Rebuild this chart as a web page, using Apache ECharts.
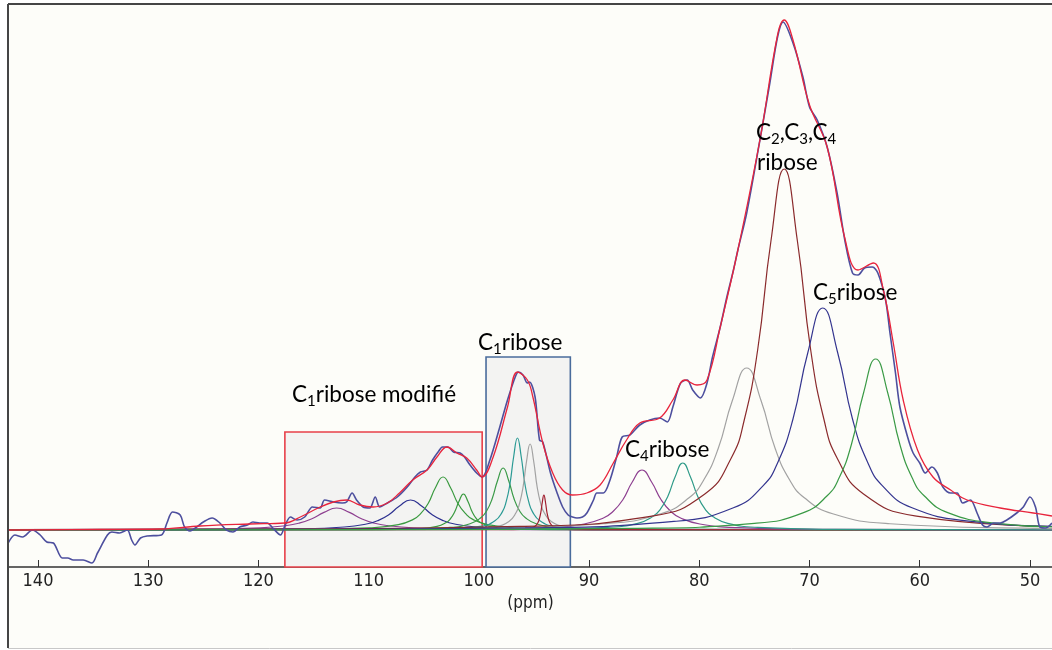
<!DOCTYPE html>
<html>
<head>
<meta charset="utf-8">
<script src="https://cdn.jsdelivr.net/npm/echarts@6/dist/echarts.min.js"></script>
<style>
html,body{margin:0;padding:0;background:#ffffff;}
#chart{width:1052px;height:650px;}
</style>
</head>
<body>
<div id="chart"></div>
<script>
// x: chemical shift (ppm), y: intensity (arbitrary units, baseline = 0)
const tickValues = [50, 60, 70, 80, 90, 100, 110, 120, 130, 140];

const experimental = [
[142.7,-2.6],[142.1,-1.0],[141.4,-1.4],[140.5,0],[139.8,-1.0],[139.2,-2.4],[138.6,-2.6],[137.8,-5.6],[137.3,-5.6],[136.8,-6.0],
[135.9,-6.0],[135.1,-6.6],[134.6,-4.6],[133.7,-1.0],[133.3,-0.4],[132.6,-0.6],[131.9,0],[131.5,-2.0],[131.2,-3.0],[130.7,-1.6],
[130.1,-1.2],[128.8,-1.0],[128.3,1.4],[127.8,3.6],[127.1,3.0],[126.7,0.6],[126.2,-0.2],[125.6,0.6],[125.0,1.6],[124.2,2.4],
[123.5,1.4],[122.9,0],[122.3,-0.4],[121.7,0.6],[121.0,1.0],[120.5,1.6],[119.9,1.4],[119.2,1.4],[118.7,0.4],[118.0,-1.0],
[117.6,0.8],[117.1,2.6],[116.5,2.0],[115.8,2.6],[115.1,4.6],[114.4,4.4],[114.0,6.0],[113.2,5.6],[112.4,5.4],[112.0,5.6],
[111.5,7.4],[111.1,6.0],[110.5,4.6],[109.9,4.4],[109.4,6.6],[109.0,4.6],[108.3,5.4],[107.4,6.6],[106.5,8.6],[105.8,10.6],
[105.3,11.6],[104.7,12.0],[104.2,14.0],[103.7,15.6],[103.3,16.6],[102.8,16.6],[102.3,15.6],[101.7,15.4],[101.3,14.6],[100.8,13.0],
[100.2,11.4],[99.7,10.6],[99.0,14.0],[98.1,20.6],[97.4,26.0],[96.7,30.6],[96.4,31.6],[96.0,31.0],[95.6,29.4],[95.4,29.6],
[94.9,26.6],[94.5,18.0],[94.2,17.6],[93.5,11.4],[92.9,7.4],[92.4,4.6],[91.9,3.0],[91.5,2.6],[91.1,2.4],[90.6,2.6],
[90.2,3.4],[89.6,6.0],[89.3,7.4],[88.7,7.4],[88.1,10.0],[87.5,14.6],[87.0,18.6],[86.3,19.0],[85.4,21.0],[84.5,22.0],
[83.6,22.4],[82.9,21.6],[82.4,24.6],[81.7,29.4],[81.1,30.0],[80.6,28.0],[79.9,26.4],[79.3,29.4],[78.8,34.6],[78.1,40.6],
[77.5,46.6],[76.9,52.0],[76.5,56.0],[75.7,63.4],[74.5,78.0],[73.6,89.4],[72.9,98.6],[72.4,101.6],[71.5,97.4],[70.6,90.6],
[70.0,84.6],[69.3,82.0],[68.4,76.6],[67.5,67.4],[66.8,58.0],[66.1,51.4],[65.6,51.0],[65.0,52.4],[64.3,52.6],[63.8,51.4],
[63.1,46.0],[62.7,39.4],[62.2,31.4],[61.8,24.6],[61.1,18.6],[60.6,15.4],[60.0,13.4],[59.5,11.4],[58.9,12.6],[58.4,11.4],
[57.9,8.6],[57.2,7.4],[56.6,7.4],[56.1,5.4],[55.4,6.0],[54.8,3.4],[54.3,1.0],[53.9,0.6],[53.3,1.4],[52.7,1.4],
[52.1,2.0],[51.2,3.4],[50.6,4.6],[50.0,6.6],[49.5,4.6],[49.1,0.6],[48.6,0.4],[48.0,1.4]
];

const fit = [
[142.7,0],[134.4,0.1],[128.8,0.2],[125.3,0.8],[120.8,1.2],[117.6,1.4],[116.2,2.6],[114.4,4.6],[113.2,5.6],[112.0,6.0],
[110.8,5.0],[109.6,4.6],[108.3,5.4],[107.2,7.4],[106.0,10.0],[104.7,12.0],[103.8,14.6],[102.9,16.6],[102.0,15.4],[101.1,14.4],
[100.2,12.0],[99.7,10.6],[98.7,14.6],[97.4,24.6],[96.5,31.6],[95.6,30.0],[95.1,26.6],[94.2,17.4],[93.3,11.4],[92.4,8.0],
[91.5,7.0],[90.2,7.4],[89.0,9.0],[87.8,13.4],[86.6,18.0],[85.4,21.4],[83.6,22.4],[82.4,26.0],[81.3,30.0],[80.2,29.0],
[79.3,30.0],[78.1,40.6],[76.5,56.0],[74.5,78.0],[72.9,99.0],[72.3,102.0],[71.5,98.0],[70.0,85.0],[68.4,76.6],[66.8,58.4],
[65.6,52.0],[64.2,53.4],[63.3,48.0],[62.4,37.4],[61.5,26.0],[60.2,16.0],[58.8,10.6],[57.2,8.0],[55.7,6.0],[52.7,4.4],
[49.7,3.4],[48.0,2.8]
];

// deconvolution components
const c1Purple = [[48,0],[89.9,0.04],[101.4,0.17],[106.0,0.44],[108.3,0.88],[109.45,1.35],[110.6,2.2],[111.75,3.52],[112.9,4.4],[114.05,3.52],[115.2,2.2],[116.35,1.35],[117.5,0.88],[119.8,0.44],[124.4,0.17],[135.9,0.04],[142.6,0.03]];
const c2Navy = [[48,0],[86.2,0.06],[96.2,0.23],[100.2,0.6],[102.2,1.2],[103.2,1.85],[104.2,3.0],[105.2,4.8],[106.2,6.0],[107.2,4.8],[108.2,3.0],[109.2,1.85],[110.2,1.2],[112.2,0.6],[116.2,0.23],[126.2,0.06],[142.6,0.02]];
const c3Green = [[48,0],[89.75,0.1],[96.5,0.41],[99.2,1.06],[100.55,2.12],[101.2,3.26],[101.9,5.3],[102.58,8.5],[103.25,10.6],[103.93,8.5],[104.6,5.3],[105.28,3.26],[105.95,2.12],[107.3,1.06],[110.0,0.41],[116.75,0.1],[142.6,0.01]];
const c4Green = [[48,0],[93.4,0.07],[97.4,0.28],[99.0,0.72],[99.8,1.44],[100.2,2.2],[100.6,3.6],[101.0,5.76],[101.4,7.2],[101.8,5.76],[102.2,3.6],[102.6,2.2],[103.0,1.44],[103.8,0.72],[105.4,0.28],[109.4,0.07],[142.6,0]];
const c5Green = [[48,0],[87.8,0.12],[92.8,0.48],[94.8,1.24],[95.8,2.5],[96.3,3.8],[96.8,6.2],[97.3,9.9],[97.8,12.4],[98.3,9.9],[98.8,6.2],[99.3,3.8],[99.8,2.5],[100.8,1.24],[102.8,0.48],[107.8,0.12],[142.6,0]];
const c6Teal = [[48,0],[89.7,0.18],[93.1,0.71],[94.46,1.84],[95.14,3.68],[95.48,5.66],[95.82,9.2],[96.16,14.7],[96.5,18.4],[96.84,14.7],[97.18,9.2],[97.52,5.66],[97.86,3.68],[98.54,1.84],[99.9,0.71],[103.3,0.18],[142.6,0]];
const c7Gray = [[48,0],[88.95,0.17],[92.15,0.66],[93.43,1.72],[94.07,3.44],[94.39,5.3],[94.71,8.6],[95.03,13.8],[95.35,17.2],[95.67,13.8],[95.99,8.6],[96.31,5.3],[96.63,3.44],[97.27,1.72],[98.55,0.66],[101.75,0.17],[142.6,0]];
const c8DarkRed = [[48,0],[91.3,0.07],[92.7,0.27],[93.26,0.7],[93.54,1.4],[93.68,2.15],[93.82,3.5],[93.96,5.6],[94.1,7.0],[94.24,5.6],[94.38,3.5],[94.52,2.15],[94.66,1.4],[94.94,0.7],[95.5,0.27],[96.9,0.07],[142.6,0]];
const c9Purple = [[48,0.02],[67.7,0.12],[76.45,0.46],[79.95,1.2],[81.7,2.4],[82.58,3.7],[83.45,6.0],[84.33,9.6],[85.2,12.0],[86.08,9.6],[86.95,6.0],[87.83,3.7],[88.7,2.4],[90.45,1.2],[93.95,0.46],[102.7,0.12],[142.6,0.01]];
const c10Teal = [[48,0.02],[67.9,0.13],[74.7,0.52],[77.42,1.34],[78.78,2.68],[79.46,4.12],[80.14,6.7],[80.82,10.7],[81.5,13.4],[82.18,10.7],[82.86,6.7],[83.54,4.12],[84.22,2.68],[85.58,1.34],[88.3,0.52],[95.1,0.13],[142.6,0.01]];
const c11Gray = [[48,0.28],[49.7,0.32],[62.7,1.25],[67.9,3.24],[70.5,6.5],[71.8,10.0],[73.1,16.2],[74.4,25.9],[75.7,32.4],[77.0,25.9],[78.3,16.2],[79.6,10.0],[80.9,6.5],[83.5,3.24],[88.7,1.25],[101.7,0.32],[142.6,0.05]];
const c12Brown = [[48,0.7],[60.3,2.78],[65.1,7.22],[67.5,14.4],[68.7,22.2],[69.9,36.1],[71.1,57.8],[72.3,72.2],[73.5,57.8],[74.7,36.1],[75.9,22.2],[77.1,14.4],[79.5,7.22],[84.3,2.78],[96.3,0.71],[115.0,0.23],[142.6,0.08]];
const c13Navy = [[48,0.74],[55.3,1.71],[60.7,4.44],[63.4,8.88],[64.75,13.66],[66.1,22.2],[67.45,35.5],[68.8,44.4],[70.15,35.5],[71.5,22.2],[72.85,13.66],[74.2,8.88],[76.9,4.44],[82.3,1.71],[95.8,0.44],[120.0,0.12],[142.6,0.06]];
const c14Green = [[48,0.64],[53.0,1.32],[57.4,3.42],[59.6,6.84],[60.7,10.5],[61.8,17.1],[62.9,27.4],[64.0,34.2],[65.1,27.4],[66.2,17.1],[67.3,10.5],[68.4,6.84],[70.6,3.42],[75.0,1.32],[86.0,0.34],[110.0,0.08],[142.6,0.03]];

// highlighted regions [ppm from, ppm to, top intensity]
const modifiedRegion = [117.6, 99.7, 19.6];
const c1Region = [99.35, 91.7, 34.6];

const components = [
  {name: 'C1 modifié a', data: c1Purple, color: '#8d3f90'},
  {name: 'C1 modifié b', data: c2Navy, color: '#2d3190'},
  {name: 'C1 modifié c', data: c3Green, color: '#3a9a40'},
  {name: 'C1 modifié d', data: c4Green, color: '#3a9a40'},
  {name: 'C1 a', data: c5Green, color: '#3a9a48'},
  {name: 'C1 b', data: c6Teal, color: '#2a9a94'},
  {name: 'C1 c', data: c7Gray, color: '#a2a2a2'},
  {name: 'C1 d', data: c8DarkRed, color: '#a01e2e'},
  {name: 'C4 a', data: c9Purple, color: '#8d3f90'},
  {name: 'C4 b', data: c10Teal, color: '#2e9a88'},
  {name: 'C2-4 a', data: c11Gray, color: '#a2a2a2'},
  {name: 'C2-4 b', data: c12Brown, color: '#8a2a2c'},
  {name: 'C5 a', data: c13Navy, color: '#34358f'},
  {name: 'C5 b', data: c14Green, color: '#3a9a46'}
];

const YMIN = -7.4, YMAX = 105.2;

const chart = echarts.init(document.getElementById('chart'), null, {renderer: 'canvas'});

const series = components.map((c, i) => ({
  type: 'line',
  name: c.name,
  data: c.data,
  smooth: 0.5,
  symbol: 'none',
  silent: true,
  z: 3,
  lineStyle: {color: c.color, width: 1.2}
}));

series.unshift({
  type: 'line',
  name: 'regions',
  data: [],
  symbol: 'none',
  silent: true,
  z: 1,
  markArea: {
    silent: true,
    z: 1,
    data: [
      [
        {xAxis: modifiedRegion[0], yAxis: modifiedRegion[2], itemStyle: {color: '#f3f3f2', borderColor: '#e8404a', borderWidth: 1.6}},
        {xAxis: modifiedRegion[1], yAxis: YMIN}
      ],
      [
        {xAxis: c1Region[0], yAxis: c1Region[2], itemStyle: {color: '#f3f3f2', borderColor: '#4a6c9c', borderWidth: 1.6}},
        {xAxis: c1Region[1], yAxis: YMIN}
      ]
    ]
  }
});

series.push({
  type: 'line', name: 'experimental', data: experimental,
  smooth: 0.3, symbol: 'none', silent: true, z: 5,
  lineStyle: {color: '#4d4f9e', width: 1.6}
});
series.push({
  type: 'line', name: 'fit', data: fit,
  smooth: 0.4, symbol: 'none', silent: true, z: 6,
  lineStyle: {color: '#e8243c', width: 1.3}
});

const labelFont = 'Lato, "Open Sans", sans-serif';
const axisFont = '"DejaVu Sans Condensed", "Liberation Sans Narrow", "Arial Narrow", "Liberation Sans", sans-serif';
const rich = {
  m: {fontSize: 22.5, fontFamily: labelFont, color: '#1e1e1e'},
  s: {fontSize: 15, fontFamily: labelFont, color: '#1e1e1e', padding: [13, 0, 0, 0]}
};
function txt(x, y, text) {
  return {
    type: 'text', x: x, y: y, z: 100, silent: true,
    style: {text: text, rich: rich, verticalAlign: 'middle', align: 'left'}
  };
}

const option = {
  animation: false,
  backgroundColor: '#ffffff',
  grid: {left: 9, right: 0, top: 4, bottom: 83},
  xAxis: {
    type: 'value',
    inverse: true,
    min: 48,
    max: 142.63,
    name: '(ppm)',
    nameLocation: 'middle',
    nameGap: 27,
    nameTextStyle: {fontSize: 17, color: '#222', fontFamily: axisFont},
    axisLine: {onZero: false, lineStyle: {color: '#333', width: 1.5}},
    axisTick: {show: true, inside: true, length: 7, customValues: tickValues, lineStyle: {color: '#333', width: 1}},
    axisLabel: {customValues: tickValues, fontSize: 18, color: '#222', margin: 5, fontFamily: axisFont},
    splitLine: {show: false}
  },
  yAxis: {
    type: 'value', min: YMIN, max: YMAX, show: false, splitLine: {show: false}
  },
  graphic: [
    {type: 'rect', z: -10, silent: true, shape: {x: 8, y: 4, width: 1100, height: 644}, style: {fill: '#fdfdf9'}},
    {type: 'line', z: 50, silent: true, shape: {x1: 8, y1: 4, x2: 1060, y2: 4}, style: {stroke: '#454545', lineWidth: 2}},
    {type: 'line', z: 50, silent: true, shape: {x1: 8, y1: 4, x2: 8, y2: 648}, style: {stroke: '#454545', lineWidth: 2}},
    {type: 'line', z: 50, silent: true, shape: {x1: 8, y1: 648.5, x2: 1060, y2: 648.5}, style: {stroke: '#c8c8c8', lineWidth: 1}},
    txt(292, 395, '{m|C}{s|1}{m|ribose modifié}'),
    txt(478, 343, '{m|C}{s|1}{m|ribose}'),
    txt(625, 450, '{m|C}{s|4}{m|ribose}'),
    txt(813, 293, '{m|C}{s|5}{m|ribose}'),
    txt(756, 133, '{m|C}{s|2}{m|,C}{s|3}{m|,C}{s|4}'),
    txt(757, 163, '{m|ribose}')
  ],
  series: series
};

chart.setOption(option);
</script>
</body>
</html>
